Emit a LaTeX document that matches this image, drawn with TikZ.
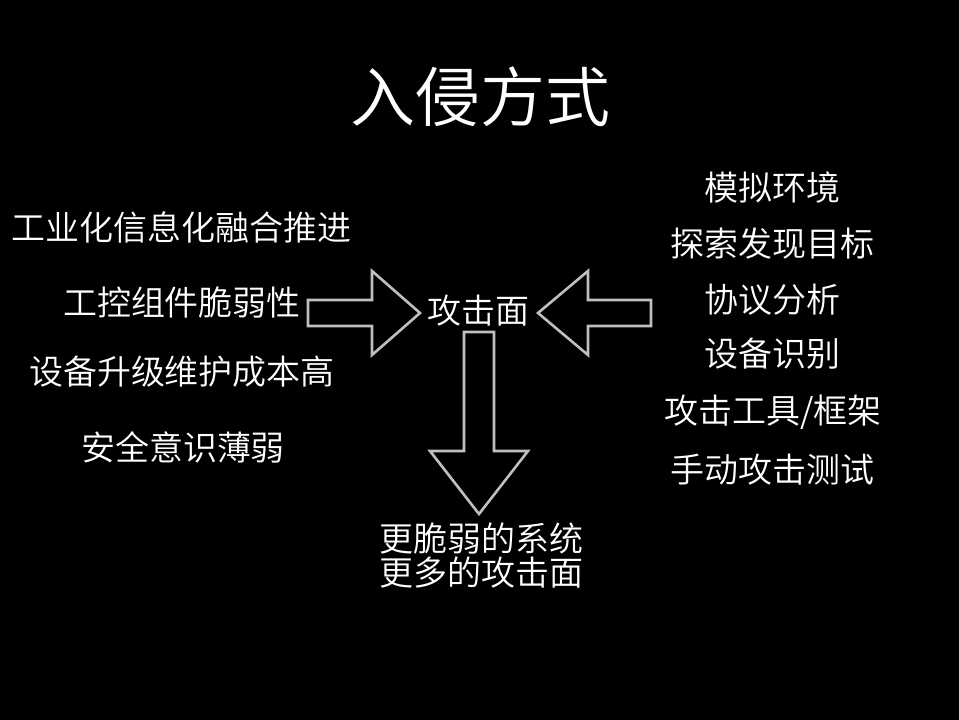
\documentclass[tikz,border=0pt]{standalone}
\usepackage{fontspec}
\setmainfont{Noto Sans CJK SC}[UprightFont=* DemiLight]
\begin{document}
\begin{tikzpicture}[x=1pt,y=-1pt,
  txt/.style={text=white,inner sep=0pt,font=\fontsize{34}{34}\selectfont},
  blockarrow/.style={draw=black!25!white,line width=2.6pt,line join=miter}]
\fill[black] (0,0) rectangle (959,720);
\useasboundingbox (0,0) rectangle (959,720);
\node[txt,font=\fontsize{65}{70}\selectfont] (title) at (480,97) {入侵方式};
% left
\node[txt] (l1) at (182,227) {工业化信息化融合推进};
\node[txt] (l2) at (182,302) {工控组件脆弱性};
\node[txt] (l3) at (182,372) {设备升级维护成本高};
\node[txt] (l4) at (183,447) {安全意识薄弱};
% right
\node[txt] (r1) at (772,188) {模拟环境};
\node[txt] (r2) at (772,244) {探索发现目标};
\node[txt] (r3) at (772,300) {协议分析};
\node[txt] (r4) at (772,354) {设备识别};
\node[txt] (r5) at (773,412) {攻击工具/框架};
\node[txt] (r6) at (772,470) {手动攻击测试};
% centre
\node[txt] (c) at (478,311) {攻击面};
\node[txt,align=center,font=\fontsize{34}{34}\selectfont] (res) at (481,555) {更脆弱的系统\\更多的攻击面};
% arrows
\draw[blockarrow] (308,300) -- (372,300) -- (372,271) -- (420,313) -- (372,355) -- (372,326) -- (308,326) -- cycle;
\draw[blockarrow] (651,300) -- (588,300) -- (588,271) -- (538,313) -- (588,355) -- (588,326) -- (651,326) -- cycle;
\draw[blockarrow] (464,332) -- (494,332) -- (494,451) -- (528,451) -- (479,514) -- (430,451) -- (464,451) -- cycle;
\end{tikzpicture}
\end{document}
